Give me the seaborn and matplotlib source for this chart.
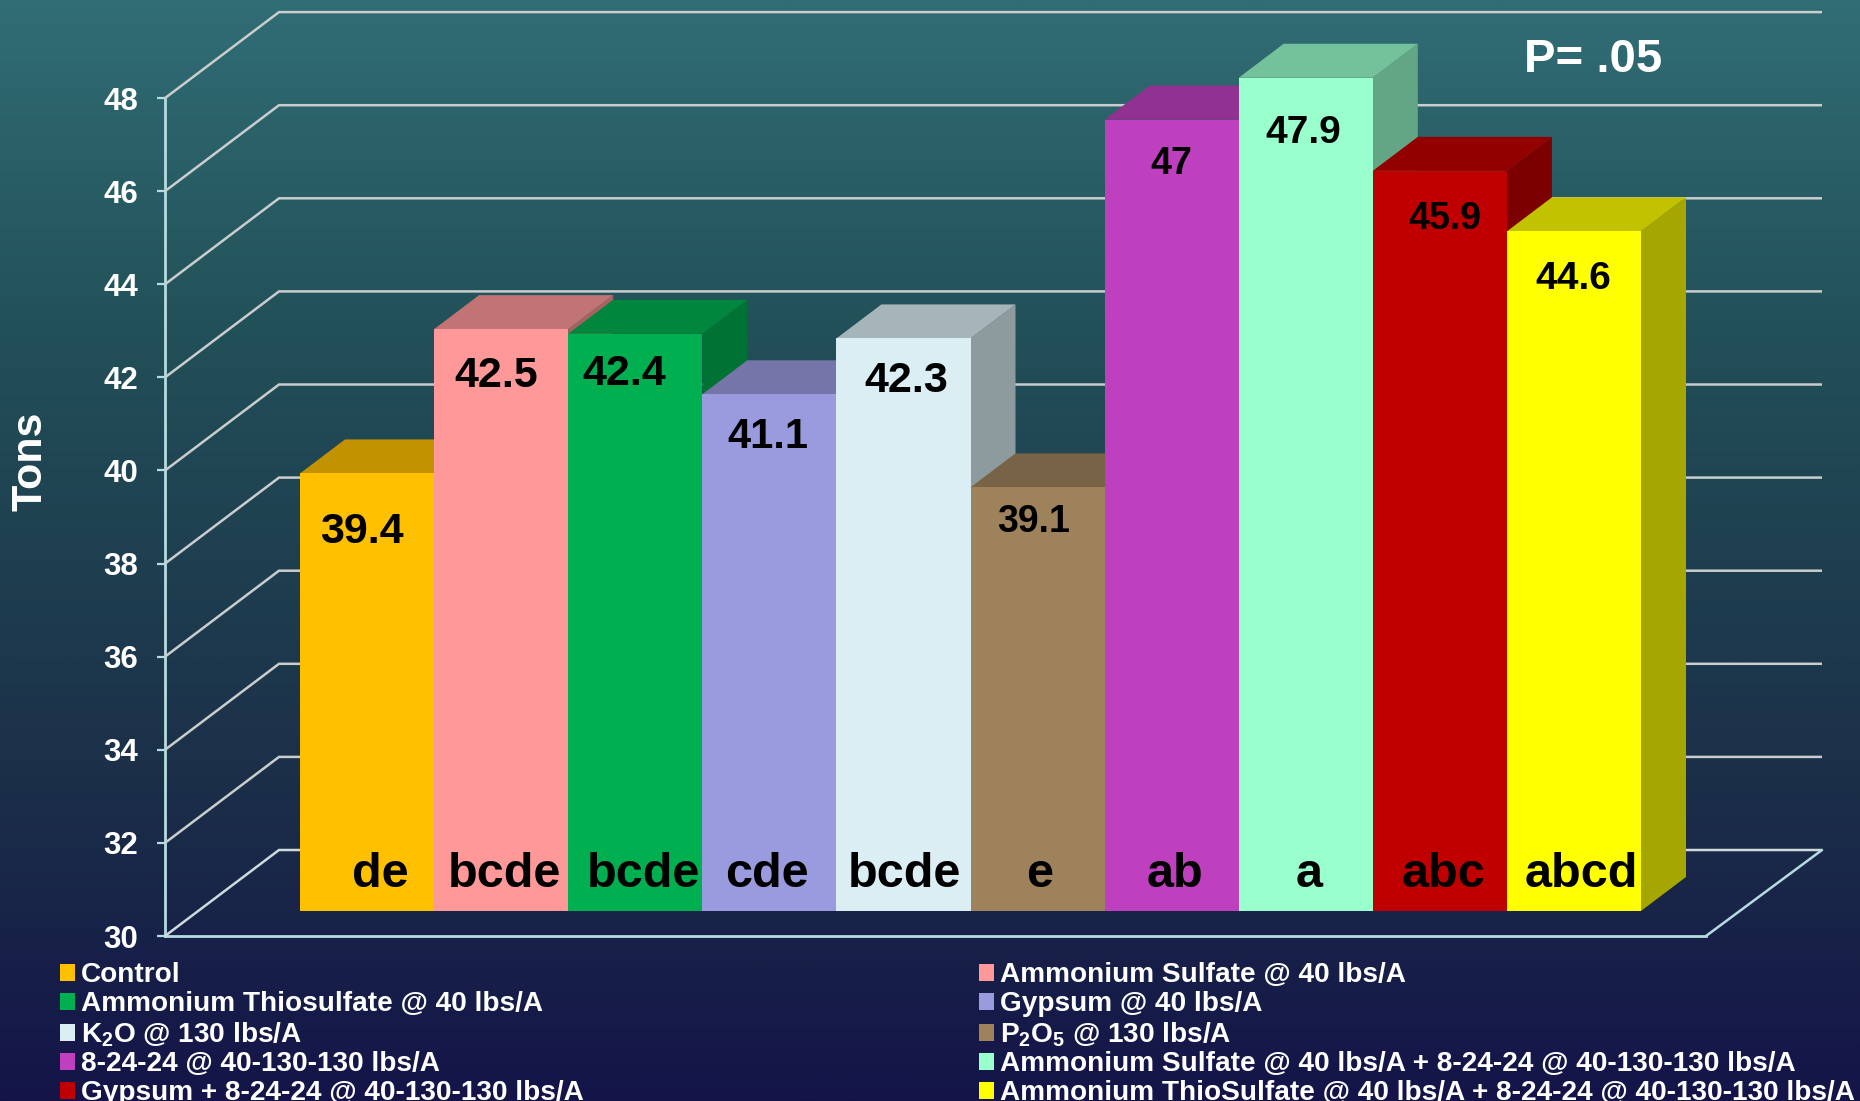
import numpy as np
import pandas as pd
import matplotlib
matplotlib.use("Agg")
import matplotlib.pyplot as plt
from matplotlib.colors import LinearSegmentedColormap, to_rgb
from matplotlib.patches import Polygon
import seaborn as sns

# ---- data ----
treatments = ["Control", "Ammonium Sulfate @ 40 lbs/A", "Ammonium Thiosulfate @ 40 lbs/A",
              "Gypsum @ 40 lbs/A", r"K$_2$O @ 130 lbs/A", r"P$_2$O$_5$ @ 130 lbs/A",
              "8-24-24 @ 40-130-130 lbs/A",
              "Ammonium Sulfate @ 40 lbs/A + 8-24-24 @ 40-130-130 lbs/A",
              "Gypsum + 8-24-24 @ 40-130-130 lbs/A",
              "Ammonium ThioSulfate @ 40 lbs/A + 8-24-24 @ 40-130-130 lbs/A"]
tons = [39.4, 42.5, 42.4, 41.1, 42.3, 39.1, 47.0, 47.9, 45.9, 44.6]
letters = ["de", "bcde", "bcde", "cde", "bcde", "e", "ab", "a", "abc", "abcd"]
y_ticks = [30, 32, 34, 36, 38, 40, 42, 44, 46, 48]

# ---- style ----
colors = ["#FFC000", "#FF9999", "#00B050", "#9A9ADE", "#DAEEF3",
          "#9E825C", "#BF40BF", "#99FFCC", "#C00000", "#FFFF00"]
value_sizes = [31, 31, 31, 30, 31, 27, 27, 28, 27, 28]
# label centres in pixels of the full-size picture
value_px = [362, 496, 624, 768, 906, 1034, 1171, 1303, 1445, 1573]
value_py = [532, 376, 374, 437, 381, 522, 164, 133, 219, 279]
letter_px = [380, 504, 643, 767, 904, 1040, 1175, 1309, 1443, 1581]

W, H = 1860, 1101
BAR_L, BAR_W, BAR_BASE, UNIT = 300.0, 134.1, 911.0, 46.55
DX, DY = 45.0, 34.0
GRID_C, AXIS_C = "#C9CDCD", "#B5DCE0"

px2x = lambda px: (px - BAR_L) / BAR_W - 0.5
py2v = lambda py: 30 + (BAR_BASE - py) / UNIT

sns.set_theme(style="white")
plt.rcParams["font.family"] = ["Liberation Sans", "DejaVu Sans"]
plt.rcParams["font.weight"] = "bold"
plt.rcParams["mathtext.default"] = "regular"

fig = plt.figure(figsize=(W / 100, H / 100), dpi=100)

# background gradient
bg = fig.add_axes([0, 0, 1, 1], zorder=0)
cmap = LinearSegmentedColormap.from_list(
    "bg", [(0, "#316D75"), (0.30, "#225058"), (0.72, "#1B2E48"), (1, "#141448")])
bg.imshow(np.linspace(0, 1, 512)[:, None], cmap=cmap, aspect="auto", vmin=0, vmax=1)
bg.axis("off")

# real value axis along the front-left edge
wall = fig.add_axes([165 / W, 1 - 936 / H, 1541 / W, 838 / H], zorder=1)
wall.patch.set_alpha(0)
wall.set_xlim(0, 1)
wall.set_ylim(30, 48)
wall.set_yticks(y_ticks)
wall.set_xticks([])
wall.tick_params(axis="y", direction="out", length=5.5, width=1.6, color=AXIS_C, pad=14,
                 left=True, labelcolor="white", labelsize=22.5)
for s in ("top", "right"):
    wall.spines[s].set_visible(False)
for s in ("left", "bottom"):
    wall.spines[s].set_color(AXIS_C)
    wall.spines[s].set_linewidth(2.0)
wall.set_ylabel("Tons", color="white", fontsize=31, fontweight="bold")
wall.yaxis.set_label_coords(-0.0745, 0.566)

# main plane: the bars' front faces
ax = fig.add_axes([0, 0, 1, 1], zorder=2)
ax.patch.set_alpha(0)
df = pd.DataFrame({"treatment": treatments, "tons": tons})
sns.barplot(data=df, x="treatment", y="tons", hue="treatment", palette=colors,
            order=treatments, hue_order=treatments, width=1.0, saturation=1,
            legend=False, linewidth=0, ax=ax)
ax.set_xlim(px2x(0), px2x(W))
ax.set_ylim(py2v(H), py2v(0))
ax.axis("off")

# gridlines on side wall and back wall
ux, uy = DX / BAR_W, DY / UNIT
lx0, lx1, rx = px2x(165), px2x(279), px2x(1822)
for t in y_ticks:
    yf = t + py2v(936) - 30
    yb = t + py2v(850) - 30
    ax.plot([lx0, lx1, rx], [yf, yb, yb], color=GRID_C if t > 30 else "#CFDADB",
            lw=1.8, zorder=1, solid_joinstyle="miter", solid_capstyle="butt")
ax.plot([px2x(1706), rx], [py2v(936), py2v(850)], color=AXIS_C, lw=1.8, zorder=1)

# bars: front face from 30, side and top faces drawn from the same values
bars = list(ax.patches)
for i, (bar, v, c) in enumerate(zip(bars, tons, colors)):
    bar.set_y(30)
    bar.set_height(v - 30)
    bar.set_zorder(3 + 2 * i + 0.5)
    bar.set_edgecolor("none")
    x0, x1 = bar.get_x(), bar.get_x() + bar.get_width()
    rgb = np.array(to_rgb(c))
    ax.add_patch(Polygon([(x1, 30), (x1 + ux, 30 + uy), (x1 + ux, v + uy), (x1, v)],
                         closed=True, fc=rgb * 0.65, ec="none", zorder=3 + 2 * i))
    ax.add_patch(Polygon([(x0, v), (x0 + ux, v + uy), (x1 + ux, v + uy), (x1, v)],
                         closed=True, fc=rgb * 0.76, ec="none", zorder=3 + 2 * i))

# labels
for v, s, px, py in zip(tons, value_sizes, value_px, value_py):
    ax.text(px2x(px), py2v(py), f"{v:g}", color="black", fontsize=s, fontweight="bold",
            ha="center", va="center", zorder=40)
for l, px in zip(letters, letter_px):
    ax.text(px2x(px), py2v(887), l, color="black", fontsize=35, fontweight="bold",
            ha="center", va="baseline", zorder=40)
ax.text(px2x(1593), py2v(60), "P= .05", color="white", fontsize=34, fontweight="bold",
        ha="center", va="center", zorder=40)

# legend, read row by row
order = [0, 2, 4, 6, 8, 1, 3, 5, 7, 9]
ax.legend([bars[i] for i in order], [treatments[i] for i in order],
          ncol=2, loc="upper left", bbox_to_anchor=(59.5 / W, 1 - 962.5 / H),
          bbox_transform=fig.transFigure, frameon=False,
          labelcolor="white", borderpad=0, borderaxespad=0,
          handlelength=0.55, handleheight=0.55, handletextpad=0.22,
          labelspacing=0.10, columnspacing=14.1,
          prop={"family": "Liberation Sans", "weight": "bold", "size": 20.15})

fig.savefig("out.png", dpi=100)
